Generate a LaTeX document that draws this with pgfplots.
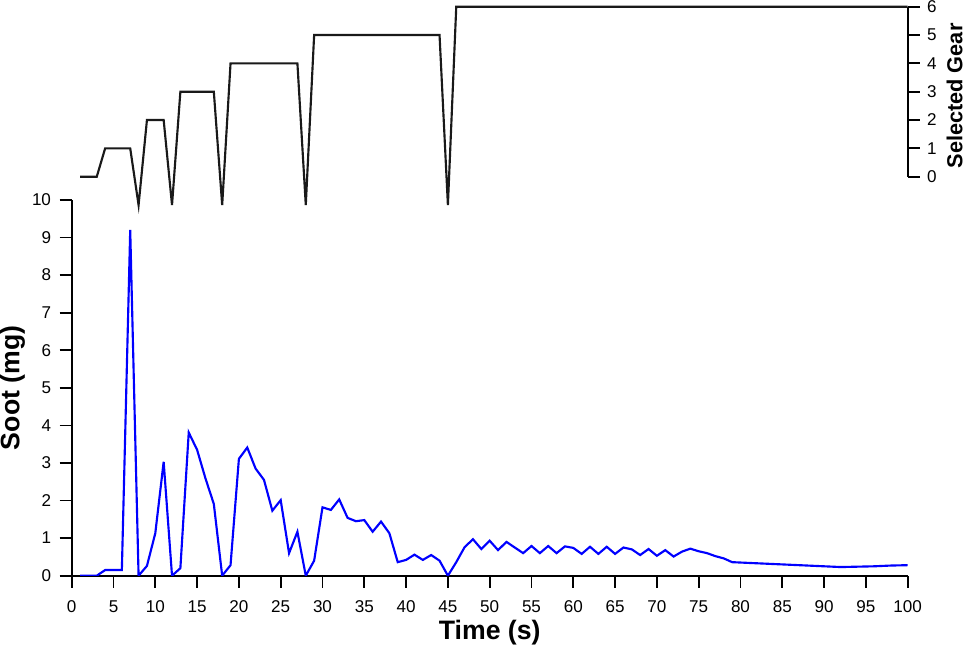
\documentclass[border=0pt]{standalone}
\usepackage{pgfplots}
\pgfplotsset{compat=1.18}
\usepackage{fontspec}
\setmainfont{Liberation Sans}
\pgfplotstableread{
t s
1 0
2 0
3 0
4 0.15
5 0.15
6 0.15
7 9.2
8 0
9 0.26
10 1.13
11 3.03
12 0
13 0.2
14 3.81
15 3.35
16 2.59
17 1.91
18 0
19 0.28
20 3.11
21 3.41
22 2.85
23 2.55
24 1.73
25 2.01
26 0.6
27 1.17
28 0
29 0.4
30 1.82
31 1.75
32 2.03
33 1.54
34 1.45
35 1.48
36 1.17
37 1.44
38 1.13
39 0.36
40 0.42
41 0.56
42 0.42
43 0.55
44 0.4
45 0
46 0.36
47 0.76
48 0.97
49 0.71
50 0.93
51 0.68
52 0.9
53 0.75
54 0.6
55 0.79
56 0.6
57 0.79
58 0.6
59 0.78
60 0.74
61 0.58
62 0.77
63 0.58
64 0.77
65 0.58
66 0.75
67 0.7
68 0.55
69 0.71
70 0.53
71 0.68
72 0.51
73 0.64
74 0.72
75 0.65
76 0.6
77 0.52
78 0.46
79 0.36
80 0.35
82 0.33
84 0.31
86 0.29
88 0.27
90 0.25
92 0.23
94 0.24
96 0.25
98 0.27
100 0.28
}\soot
\pgfplotstableread{
t g
1 0
3 0
4 1
7 1
8 -1
9 2
11 2
12 -1
13 3
17 3
18 -1
19 4
27 4
28 -1
29 5
44 5
45 -1
46 6
100 6
}\gear
\begin{document}
\begin{tikzpicture}
\pgfplotsset{
  common/.style={
    scale only axis,
    width=627pt,
    xmin=0, xmax=100,
    tick align=outside,
    major tick length=9pt,
    axis line style={line width=1.5pt, black},
    every tick/.style={line width=1.3pt, black},
    tick label style={font=\fontsize{12.8}{15}\selectfont},
    /pgf/number format/assume math mode=true,
    label style={font=\bfseries\fontsize{20}{22}\selectfont},
  }
}
\begin{axis}[common,
  at={(0,0)}, anchor=south west,
  height=281.8pt,
  ymin=0, ymax=10,
  axis x line*=bottom, axis y line*=left,
  xtick={0,5,...,100},
  ytick={0,1,...,10},
  xticklabel style={yshift=-6pt},
  yticklabel style={xshift=-3pt},
  xlabel={Time (s)},
  ylabel={Soot (mg)},
  xlabel style={at={(axis description cs:0.5,0)}, anchor=base, yshift=-48.2pt},
  ylabel style={at={([xshift=-39.2pt]axis description cs:0,0.5)}, anchor=base, rotate=0},
]
\addplot[color={rgb,255:red,0;green,0;blue,255}, line width=1.6pt] table[x=t,y=s] {\soot};
\end{axis}
\begin{axis}[common,
  at={(0,299.25pt)}, anchor=south west,
  height=127.5pt,
  ymin=0, ymax=6,
  clip=false,
  axis x line=none, axis y line*=right,
  ytick={0,1,...,6},
  yticklabel style={xshift=2pt},
  ylabel={Selected Gear},
  ylabel style={at={([xshift=41pt]axis description cs:1,0.475)}, anchor=base, rotate=0, font=\bfseries\fontsize{16.3}{18}\selectfont},
]
\addplot[color=black!90, line width=1.6pt] table[x=t,y=g] {\gear};
\end{axis}
\pgfresetboundingbox
\useasboundingbox (-53.775pt,-54.225pt) rectangle (669.975pt,431.775pt);
\end{tikzpicture}
\end{document}
